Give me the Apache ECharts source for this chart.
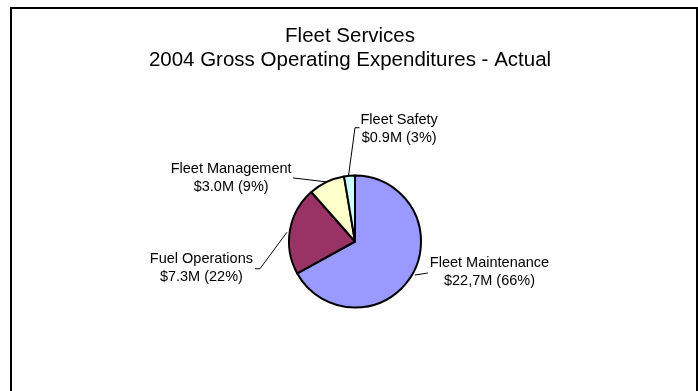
<!DOCTYPE html>
<html>
<head>
<meta charset="utf-8">
<script src="https://cdn.jsdelivr.net/npm/echarts@6/dist/echarts.min.js"></script>
<style>
  html, body { margin: 0; padding: 0; background: #fff; }
  #chart { width: 698px; height: 391px; }
</style>
</head>
<body>
<div id="chart"></div>
<script>
// ---- data ----
const categories = ['Fleet Maintenance', 'Fuel Operations', 'Fleet Management', 'Fleet Safety'];
const values = [22.7, 7.3, 3.0, 0.9];
const valueLabels = ['$22,7M (66%)', '$7.3M (22%)', '$3.0M (9%)', '$0.9M (3%)'];
const titleLines = ['Fleet Services', '2004 Gross Operating Expenditures - Actual'];

// ---- styling / layout ----
const colors = ['#9999FF', '#993366', '#FFFFCC', '#CCFFFF'];
const FONT = '"Liberation Sans", Arial, sans-serif';
const center = [355, 241.5];
const radius = 66;
// label placement relative to each slice's edge anchor (Excel-style manual label positions)
const labelPlacement = [
  { pts: [[3, 0], [16, -2]], text: [18, -3], side: 'left' },
  { pts: [[-3, 2], [-30, 38.5], [-35, 38.5]], text: [-37, 37.5], side: 'right' },
  { pts: [[0, 0], [-33.5, -4]], text: [-35, -4], side: 'right' },
  { pts: [[-1, 0], [5.5, -48], [10, -48]], text: [11, -47], side: 'left' }
];

const chart = echarts.init(document.getElementById('chart'), null, { renderer: 'canvas' });

function anchorFor(idx) {
  const total = values.reduce((a, b) => a + b, 0);
  let before = 0;
  for (let i = 0; i < idx; i++) before += values[i];
  const mid = (before + values[idx] / 2) / total * 2 * Math.PI;
  return [center[0] + radius * Math.sin(mid), center[1] - radius * Math.cos(mid)];
}

chart.setOption({
  backgroundColor: '#fff',
  animation: false,
  graphic: [{
    type: 'rect',
    shape: { x: 11, y: 8, width: 686, height: 420 },
    style: { fill: 'none', stroke: '#000', lineWidth: 2 },
    silent: true
  }, {
    type: 'text',
    x: 350,
    y: 24,
    style: {
      text: titleLines.join('\n'),
      font: '20.5px ' + FONT,
      fill: '#000',
      align: 'center',
      verticalAlign: 'top',
      lineHeight: 24
    },
    silent: true
  }],
  series: [{
    type: 'pie',
    center: center,
    radius: radius,
    startAngle: 90,
    clockwise: true,
    avoidLabelOverlap: false,
    itemStyle: { borderColor: '#000', borderWidth: 2 },
    label: {
      show: true,
      position: 'outside',
      formatter: p => p.name + '\n' + valueLabels[p.dataIndex],
      fontFamily: FONT,
      fontSize: 14.5,
      lineHeight: 18,
      color: '#000',
      align: 'center'
    },
    labelLine: {
      show: true,
      length: 10,
      length2: 10,
      lineStyle: { color: '#000', width: 1 }
    },
    labelLayout: function (params) {
      const i = params.dataIndex;
      const pl = labelPlacement[i];
      const a = anchorFor(i);
      const w = params.labelRect.width;
      const tx = a[0] + pl.text[0];
      const ty = a[1] + pl.text[1];
      return {
        x: pl.side === 'left' ? tx + w / 2 : tx - w / 2,
        y: ty,
        align: 'center',
        verticalAlign: 'middle',
        labelLinePoints: pl.pts.map(p => [a[0] + p[0], a[1] + p[1]])
      };
    },
    data: categories.map((name, i) => ({
      name: name,
      value: values[i],
      itemStyle: { color: colors[i] }
    }))
  }]
});
</script>
</body>
</html>
